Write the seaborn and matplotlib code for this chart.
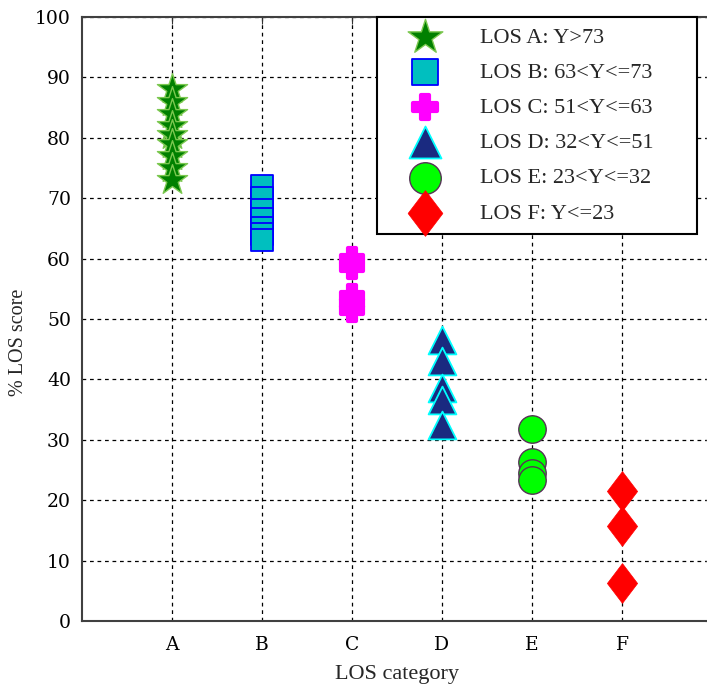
import pandas as pd
import matplotlib
matplotlib.use("Agg")
import matplotlib.pyplot as plt
import seaborn as sns

categories = ["A", "B", "C", "D", "E", "F"]
legend_labels = ["LOS A: Y>73", "LOS B: 63<Y<=73", "LOS C: 51<Y<=63",
                 "LOS D: 32<Y<=51", "LOS E: 23<Y<=32", "LOS F: Y<=23"]

score_a = [88, 86, 84, 82, 80.5, 79, 77, 75, 73]
score_b = [72, 70, 68, 66.5, 65, 64, 63]
score_c = [60, 58.6, 53.8, 52.7, 51.5]
score_d = [46.5, 43, 38.6, 36.6, 32.5]
score_e = [31.8, 26.3, 24.5, 23.3]
score_f = [21.5, 15.8, 6.3]

scores = [score_a, score_b, score_c, score_d, score_e, score_f]
rows = []
for i, (cat, vals) in enumerate(zip(categories, scores)):
    for v in vals:
        rows.append({"cat": cat, "pos": i + 1, "score": v})
df = pd.DataFrame(rows)

diamond = [(0, 1), (0.76, 0), (0, -1), (-0.76, 0), (0, 1)]
styles = {
    "A": dict(marker="*", s=520, color="#008000", edgecolor="#7cc850", linewidth=1.0),
    "B": dict(marker="s", s=265, color="#00bfbf", edgecolor="#0000ff", linewidth=1.3),
    "C": dict(marker="P", s=240, color="#ff00ff", edgecolor="#ff00ff", linewidth=3.0),
    "D": dict(marker="^", s=400, color="#1a2a80", edgecolor="#00ffff", linewidth=1.3),
    "E": dict(marker="o", s=390, color="#00ff00", edgecolor="#553355", linewidth=1.0),
    "F": dict(marker=diamond, s=820, color="#ff0000", edgecolor="#ff0000", linewidth=0.5),
}

sns.set_style("white")
plt.rcParams["font.family"] = ["DejaVu Serif"]

fig = plt.figure(figsize=(7.07, 6.90), dpi=100)
ax = fig.add_axes([82 / 707, 69 / 690, 630 / 707, 604 / 690])

for cat, lab in zip(categories, legend_labels):
    sub = df[df["cat"] == cat]
    sns.scatterplot(data=sub, x="pos", y="score", ax=ax, label=lab, zorder=3,
                    **styles[cat])

ax.set_xlim(0, 7)
ax.set_ylim(0, 100)
ax.set_xticks(range(1, 7))
ax.set_xticklabels(categories)
ax.set_yticks(range(0, 101, 10))
ax.tick_params(direction="in", length=5, top=True, right=True, labelsize=13.5,
               colors="#333333", labelcolor="black", pad=8)
ax.tick_params(axis="x", pad=11)
ax.grid(True, color="black", linestyle=(0, (3, 3)), linewidth=0.9)
ax.set_axisbelow(True)
for sp in ax.spines.values():
    sp.set_color("#404040")
    sp.set_linewidth(1.5)

ax.set_xlabel("LOS category", family="Liberation Serif", fontsize=16, labelpad=8)
ax.set_ylabel("% LOS score", family="Liberation Serif", fontsize=14.5)
ax.yaxis.set_label_coords(-0.085, 0.462)

leg = ax.legend(loc="upper left", bbox_to_anchor=(0.468, 0.0, 0.508, 1.0),
                mode="expand", fancybox=False, framealpha=1, edgecolor="black",
                prop={"family": "Liberation Serif", "size": 16},
                handlelength=3.4, handletextpad=0.8, borderpad=0.45,
                labelspacing=0.66, borderaxespad=0, markerscale=1.15)
leg.get_frame().set_linewidth(1.5)

plt.savefig("out.png", dpi=100)
